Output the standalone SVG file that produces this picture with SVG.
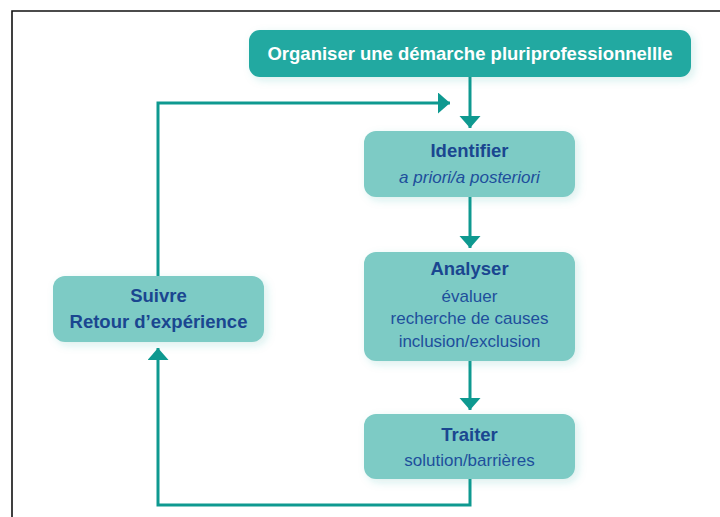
<svg xmlns="http://www.w3.org/2000/svg" width="720" height="517" viewBox="0 0 720 517">
  <defs>
    <marker id="ah" markerUnits="userSpaceOnUse" markerWidth="14" markerHeight="22" refX="12" refY="10.5" orient="auto" viewBox="0 0 14 22">
      <path d="M0,0 L12,10.5 L0,21 Z" fill="#0e9990"/>
    </marker>
    <filter id="sh" x="-20%" y="-30%" width="140%" height="160%">
      <feDropShadow dx="3" dy="3" stdDeviation="4" flood-color="#2aa39b" flood-opacity="0.18"/>
    </filter>
  </defs>
  <style>
    .frame { stroke: #111; stroke-width: 1.6; fill: none; }
    .box { fill: #7dcbc5; filter: url(#sh); }
    .top { fill: #20a9a1; filter: url(#sh); }
    .conn { stroke: #0e9990; stroke-width: 3; fill: none; marker-end: url(#ah); }
    .conn-plain { stroke: #0e9990; stroke-width: 3; fill: none; }
    text { font-family: "Liberation Sans", Arial, sans-serif; text-anchor: middle; }
    .title { font-size: 18.5px; font-weight: bold; fill: #1a4690; }
    .sub { font-size: 17px; fill: #1d4f9c; }
    .it { font-style: italic; }
    .toptxt { font-size: 18.5px; font-weight: bold; fill: #ffffff; }
  </style>
  <rect width="720" height="517" fill="#ffffff"/>
  <path class="frame" d="M12,517 L12,11 L720,11"/>

  <g id="connectors">
    <path class="conn" d="M470,77 L470,128"/>
    <path class="conn" d="M470,197 L470,248"/>
    <path class="conn" d="M470,361 L470,410"/>
    <path class="conn" d="M470,479 L470,505 L158,505 L158,348"/>
    <path class="conn" d="M158,276 L158,103 L450,103"/>
  </g>

  <g id="organiser">
    <rect class="top" x="249" y="30" width="442" height="47" rx="11"/>
    <text class="toptxt" x="470" y="60">Organiser une démarche pluriprofessionnellle</text>
  </g>

  <g id="identifier">
    <rect class="box" x="364" y="131" width="211" height="66" rx="12"/>
    <text class="title" x="469.5" y="157">Identifier</text>
    <text class="sub it" x="469.5" y="183">a priori/a posteriori</text>
  </g>

  <g id="analyser">
    <rect class="box" x="364" y="252" width="211" height="109" rx="12"/>
    <text class="title" x="469.5" y="275">Analyser</text>
    <text class="sub" x="469.5" y="302">évaluer</text>
    <text class="sub" x="469.5" y="324">recherche de causes</text>
    <text class="sub" x="469.5" y="347">inclusion/exclusion</text>
  </g>

  <g id="traiter">
    <rect class="box" x="364" y="414" width="211" height="65" rx="12"/>
    <text class="title" x="469.5" y="441">Traiter</text>
    <text class="sub" x="469.5" y="466">solution/barrières</text>
  </g>

  <g id="suivre">
    <rect class="box" x="53" y="276" width="211" height="66" rx="12"/>
    <text class="title" x="158.5" y="302">Suivre</text>
    <text class="title" x="158.5" y="328">Retour d’expérience</text>
  </g>
</svg>
